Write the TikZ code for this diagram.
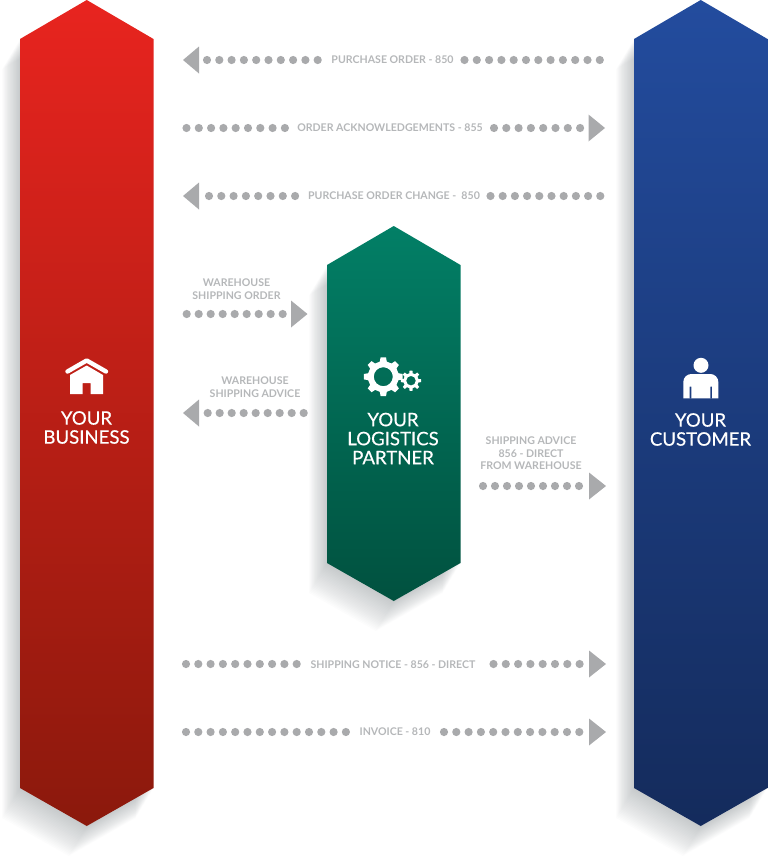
\documentclass[tikz,border=0pt]{standalone}
\usepackage{fontspec}
\setmainfont{Lato}
\newfontfamily\partyfont[FakeBold=0.35]{Lato}
\usetikzlibrary{calc}
\definecolor{bizred}{HTML}{E8241F}
\definecolor{bizdark}{HTML}{8B190C}
\definecolor{logigreen}{HTML}{027F66}
\definecolor{logidark}{HTML}{01513F}
\definecolor{custblue}{HTML}{234C9E}
\definecolor{custdark}{HTML}{142B5C}
\definecolor{flowgray}{HTML}{A9AAAC}
\definecolor{flowtext}{HTML}{B5B7B9}
\definecolor{shadowgray}{HTML}{4F595E}

\begin{document}
\begin{tikzpicture}[
  x=1pt, y=-1pt,
  party/.style={font=\partyfont\fontsize{18.6}{19}\selectfont, text=white, align=center, inner sep=0pt},
  flowlab/.style={font=\fontsize{10.6}{12.5}\selectfont\bfseries, text=flowtext, align=center, inner sep=0pt},
  dotrow/.style={flowgray, line width=8.2pt, line cap=round, dash pattern=on 0pt off #1pt}
]
  \useasboundingbox (0, 0) rectangle (768, 860);

  % Soft shadows, swept down and to the left
  \foreach \xl/\yt/\yb in {20/0/826, 634/0/826, 327/226/601} {
    \foreach \s in {1,...,24} {
      \fill[shadowgray, opacity=0.017, shift={(-\s*0.75, \s*1.25)}]
        (\xl, \yt+39) -- (\xl+66.75, \yt) -- (\xl+133.5, \yt+39)
        -- (\xl+133.5, \yb-38) -- (\xl+66.75, \yb) -- (\xl, \yb-38) -- cycle;
    }
  }

  % Columns
  \foreach \xl/\yt/\yb/\ctop/\cbot in {
    20/0/826/bizred/bizdark,
    634/0/826/custblue/custdark,
    327/226/601/logigreen/logidark%
  } {
    \shade[top color=\ctop, bottom color=\cbot]
      (\xl, \yt+39) -- (\xl+66.75, \yt) -- (\xl+133.5, \yt+39)
      -- (\xl+133.5, \yb-38) -- (\xl+66.75, \yb) -- (\xl, \yb-38) -- cycle;
  }

  \node[party] (business) at (86.5, 427.5) {YOUR\\BUSINESS};
  \node[party] (partner) at (393, 438.5) {YOUR\\LOGISTICS\\PARTNER};
  \node[party] (customer) at (700.5, 429.5) {YOUR\\CUSTOMER};

  % House
  \draw[white, line width=4.4pt, line cap=round, line join=round]
    (67.5, 371.5) -- (86.7, 360.5) -- (106, 371.5);
  \fill[white] (70, 394) -- (70, 375) -- (86.7, 365.5) -- (103, 375) -- (103, 394)
    -- (90.5, 394) -- (90.5, 383) -- (82.7, 383) -- (82.7, 394) -- cycle;

  % Gears
  \foreach \cx/\cy/\ro/\ri/\rh in {383.3/376.7/19.5/15.5/9.5, 411/380.7/10.3/7.6/4.8} {
    \fill[white, even odd rule, line join=round]
      ($(\cx, \cy)+(-13:\ri)$)
      \foreach \a in {0,45,...,315} {
        -- ($(\cx, \cy)+(\a-13:\ri)$) -- ($(\cx, \cy)+(\a-8:\ro)$)
        -- ($(\cx, \cy)+(\a+8:\ro)$) -- ($(\cx, \cy)+(\a+13:\ri)$)
      } -- cycle
      (\cx, \cy) circle[radius=\rh];
  }

  % Person
  \fill[white] (701, 365.3) circle[radius=7.5];
  \fill[white, even odd rule]
    [rounded corners=8pt] (683.3, 398.3) -- (683.3, 374) -- (718.3, 374) [sharp corners] -- (718.3, 398.3) -- cycle
    (689.6, 386.7) rectangle (691.4, 398.3)
    (710.4, 386.7) rectangle (712.2, 398.3);

  % Flow labels
  \node[flowlab] (po) at (392.5, 60) {PURCHASE ORDER - 850};
  \node[flowlab] (ack) at (390, 128) {ORDER ACKNOWLEDGEMENTS - 855};
  \node[flowlab] (change) at (394, 196) {PURCHASE ORDER CHANGE -\ \ 850};
  \node[flowlab] (wso) at (236.5, 289) {WAREHOUSE\\SHIPPING ORDER};
  \node[flowlab] (wsa) at (255, 387) {WAREHOUSE\\SHIPPING ADVICE};
  \node[flowlab] (direct) at (531, 453.5) {SHIPPING ADVICE\\856 - DIRECT\\FROM WAREHOUSE};
  \node[flowlab] (notice) at (393, 664.5) {SHIPPING NOTICE - 856 - DIRECT};
  \node[flowlab] (invoice) at (395, 732) {INVOICE - 810};

  % Dotted runs
  \foreach \n/\y/\xa/\xb/\p in {
    a/60/207/318.5/12.3, b/60/464.5/601/12.3,
    c/128/186.5/285.5/12.3, d/128/494/580.5/12.3,
    e/196/209/295.5/12.3, f/196/490.5/601/12.2,
    g/314/186.7/283.2/12, h/413/207.7/304.2/12,
    i/486/483/579.5/12,
    j/664/186/297.5/12.3, k/664/493.5/580/12.3,
    l/732/186/346.5/12.3, m/732/444/580/12.3%
  } {
    \coordinate (\n0) at (\xa, \y);
    \coordinate (\n1) at (\xb, \y);
    \draw[dotrow=\p] (\n0) -- (\n1);
  }

  % Arrow heads
  \foreach \y/\xb/\xt in {
    60/199/183, 196/199/183, 413/199/183,
    128/588.5/605, 314/291/307.5, 486/589/606, 664/589/606, 732/589/606%
  } {
    \fill[flowgray] (\xb, \y-13.5) -- (\xt, \y) -- (\xb, \y+13.5) -- cycle;
  }
\end{tikzpicture}
\end{document}
